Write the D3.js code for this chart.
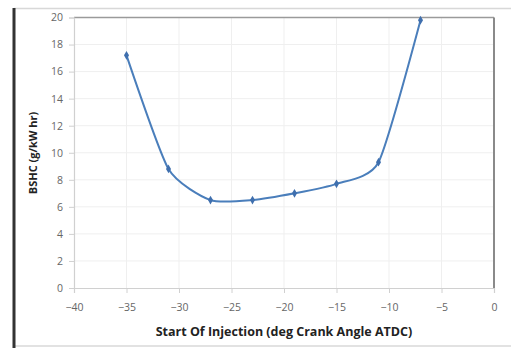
<!DOCTYPE html>
<html><head><meta charset="utf-8">
<script src="https://cdn.jsdelivr.net/npm/d3@7"></script>
<style>body{margin:0;background:#fff;}svg{display:block;}</style>
</head><body>
<script>
const soi = [-35, -31, -27, -23, -19, -15, -11, -7];
const bshc = [17.2, 8.8, 6.5, 6.5, 7.0, 7.7, 9.3, 19.8];
const xTicks = [-40, -35, -30, -25, -20, -15, -10, -5, 0];
const yTicks = [0, 2, 4, 6, 8, 10, 12, 14, 16, 18, 20];

const W = 511, H = 348;
const svg = d3.select("body").append("svg").attr("width", W).attr("height", H);

// frame
svg.append("line").attr("x1", 14).attr("x2", 511).attr("y1", 8.5).attr("y2", 8.5).attr("stroke", "#d8d8d8").attr("stroke-width", 1.5);
svg.append("line").attr("x1", 14).attr("x2", 511).attr("y1", 346).attr("y2", 346).attr("stroke", "#d8d8d8").attr("stroke-width", 1.5);
svg.append("line").attr("x1", 14).attr("x2", 14).attr("y1", 8).attr("y2", 348).attr("stroke", "#333").attr("stroke-width", 3);

const x = d3.scaleLinear().domain([-40, 0]).range([74, 494]);
const y = d3.scaleLinear().domain([0, 20]).range([288, 17.5]);

// grid
svg.append("g").selectAll("line").data(xTicks.slice(1)).join("line")
  .attr("x1", d => x(d)).attr("x2", d => x(d)).attr("y1", y(0)).attr("y2", y(20))
  .attr("stroke", "#efefef").attr("stroke-width", 1);
svg.append("g").selectAll("line").data(yTicks.slice(1)).join("line")
  .attr("x1", x(-40)).attr("x2", x(0)).attr("y1", d => y(d)).attr("y2", d => y(d))
  .attr("stroke", "#efefef").attr("stroke-width", 1);

// plot border top/right
svg.append("line").attr("x1", x(-40)).attr("x2", x(0)).attr("y1", y(20)).attr("y2", y(20)).attr("stroke", "#9a9a9a").attr("stroke-width", 1.5);
svg.append("line").attr("x1", x(0)).attr("x2", x(0)).attr("y1", y(20)).attr("y2", y(0)).attr("stroke", "#8a8a8a").attr("stroke-width", 2);

// axes
const xAxis = d3.axisBottom(x).tickValues(xTicks).tickSize(5).tickPadding(11);
const gx = svg.append("g").attr("transform", `translate(0,${y(0)})`).call(xAxis);
const yAxis = d3.axisLeft(y).tickValues(yTicks).tickSize(5).tickPadding(6);
const gy = svg.append("g").attr("transform", `translate(${x(-40)},0)`).call(yAxis);
[gx, gy].forEach(g => {
  g.select(".domain").attr("stroke", "#d0d0d0").attr("stroke-width", 1.2);
  g.selectAll(".tick line").attr("stroke", "#d0d0d0");
  g.selectAll(".tick text").attr("fill", "#666").attr("font-family", "Open Sans, sans-serif").attr("font-size", 10.5);
});

// line
const line = d3.line().x((d, i) => x(soi[i])).y(d => y(d)).curve(d3.curveCardinal.tension(0.4));
svg.append("path").datum(bshc).attr("d", line).attr("fill", "none").attr("stroke", "#4a7ebb").attr("stroke-width", 2);

// markers
svg.append("g").selectAll("path").data(bshc).join("path")
  .attr("transform", (d, i) => `translate(${x(soi[i])},${y(d)})`)
  .attr("d", d3.symbol(d3.symbolDiamond, 22))
  .attr("fill", "#3f6fae");

// labels
svg.append("text").attr("x", 284).attr("y", 336).attr("text-anchor", "middle")
  .attr("font-family", "Open Sans, sans-serif").attr("font-weight", "bold").attr("font-size", 12.5).attr("fill", "#222")
  .text("Start Of Injection (deg Crank Angle ATDC)");
svg.append("text").attr("transform", "translate(37,153) rotate(-90)").attr("text-anchor", "middle")
  .attr("font-family", "Open Sans, sans-serif").attr("font-weight", "bold").attr("font-size", 11).attr("fill", "#222")
  .text("BSHC (g/kW hr)");
</script>
</body></html>
